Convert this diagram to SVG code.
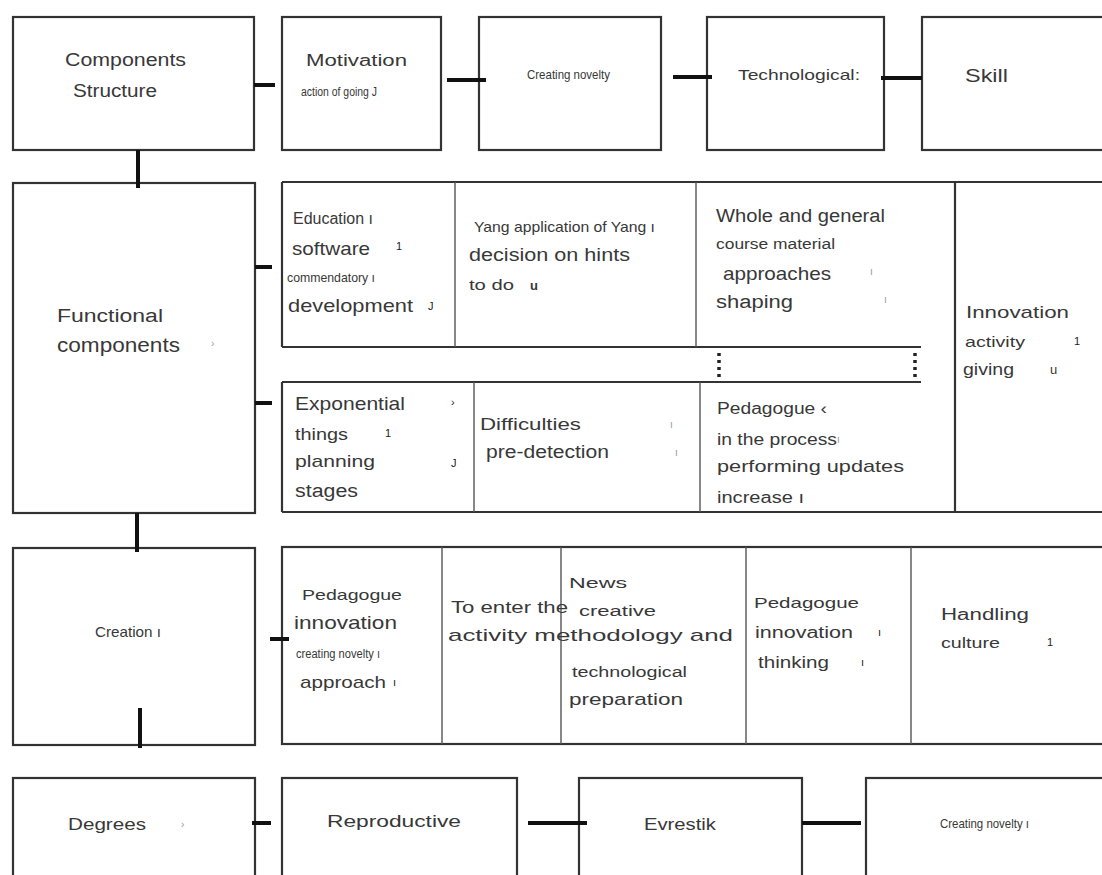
<svg xmlns="http://www.w3.org/2000/svg" width="1102" height="875" viewBox="0 0 1102 875">
<style>
.box{fill:#fff;stroke:#333;stroke-width:2.2}
.div{stroke:#555;stroke-width:1.4;fill:none}
.edge{stroke:#333;stroke-width:2.2;fill:none}
.con{stroke:#111;stroke-width:4;fill:none}
.dot{stroke:#222;stroke-width:3.5;stroke-dasharray:3 4;fill:none}
text{font-family:"Liberation Sans",Arial,sans-serif;fill:#383838}
.m{fill:#222;font-size:11px}
.l{fill:#999;font-size:10px}
</style>
<rect width="1102" height="875" fill="#fff"/>
<g id="components-structure">
<rect class="box" x="13" y="17" width="241" height="133"/>
<text x="65" y="66" font-size="18" textLength="121" lengthAdjust="spacingAndGlyphs">Components</text>
<text x="73" y="97" font-size="18" textLength="84" lengthAdjust="spacingAndGlyphs">Structure</text>
</g>
<g id="motivation">
<rect class="box" x="282" y="17" width="159" height="133"/>
<text x="306" y="66" font-size="16" textLength="101" lengthAdjust="spacingAndGlyphs">Motivation</text>
<text x="301" y="96" font-size="12" textLength="76" lengthAdjust="spacingAndGlyphs">action of going J</text>
</g>
<g id="creating-novelty-top">
<rect class="box" x="479" y="17" width="182" height="133"/>
<text x="527" y="79" font-size="13" textLength="83" lengthAdjust="spacingAndGlyphs">Creating novelty</text>
</g>
<g id="technological">
<rect class="box" x="707" y="17" width="177" height="133"/>
<text x="738" y="80" font-size="15" textLength="122" lengthAdjust="spacingAndGlyphs">Technological:</text>
</g>
<g id="skill">
<rect class="box" x="922" y="17" width="190" height="133"/>
<text x="965" y="82" font-size="18" textLength="43" lengthAdjust="spacingAndGlyphs">Skill</text>
</g>
<g id="functional-components">
<rect class="box" x="13" y="183" width="242" height="330"/>
<text x="57" y="322" font-size="18" textLength="106" lengthAdjust="spacingAndGlyphs">Functional</text>
<text x="57" y="352" font-size="20" textLength="123" lengthAdjust="spacingAndGlyphs">components</text>
<text class="l" x="211" y="347">›</text>
</g>
<g id="functional-table">
<line class="edge" x1="282" y1="182" x2="1104" y2="182"/>
<line class="edge" x1="282" y1="182" x2="282" y2="347"/>
<line class="edge" x1="282" y1="347" x2="921" y2="347"/>
<line class="edge" x1="282" y1="382" x2="921" y2="382"/>
<line class="edge" x1="282" y1="382" x2="282" y2="512"/>
<line class="edge" x1="282" y1="512" x2="1104" y2="512"/>
<line class="div" x1="455" y1="182" x2="455" y2="347"/>
<line class="div" x1="696" y1="182" x2="696" y2="347"/>
<line class="div" x1="474" y1="382" x2="474" y2="512"/>
<line class="div" x1="700" y1="382" x2="700" y2="512"/>
<line class="edge" x1="955" y1="182" x2="955" y2="512"/>
<line class="dot" x1="719" y1="353" x2="719" y2="378"/>
<line class="dot" x1="915" y1="353" x2="915" y2="378"/>
</g>
<g id="education-software">
<text x="293" y="224" font-size="16" textLength="80" lengthAdjust="spacingAndGlyphs">Education ı</text>
<text x="292" y="255" font-size="19" textLength="78" lengthAdjust="spacingAndGlyphs">software</text>
<text class="m" x="396" y="250">1</text>
<text x="287" y="282" font-size="13" textLength="88" lengthAdjust="spacingAndGlyphs">commendatory ı</text>
<text x="288" y="312" font-size="19" textLength="125" lengthAdjust="spacingAndGlyphs">development</text>
<text class="m" x="428" y="310">J</text>
</g>
<g id="decision-on-hints">
<text x="474" y="232" font-size="15" textLength="181" lengthAdjust="spacingAndGlyphs">Yang application of Yang ı</text>
<text x="469" y="261" font-size="18" textLength="161" lengthAdjust="spacingAndGlyphs">decision on hints</text>
<text x="469" y="290" font-size="14" textLength="45" lengthAdjust="spacingAndGlyphs">to do</text>
<text x="530" y="290" font-size="13" font-weight="bold" fill="#222">u</text>
</g>
<g id="approaches-shaping">
<text x="716" y="222" font-size="18" textLength="169" lengthAdjust="spacingAndGlyphs">Whole and general</text>
<text x="716" y="249" font-size="14" textLength="119" lengthAdjust="spacingAndGlyphs">course material</text>
<text x="723" y="280" font-size="19" textLength="108" lengthAdjust="spacingAndGlyphs">approaches</text>
<text class="l" x="870" y="275">ı</text>
<text x="716" y="308" font-size="18" textLength="77" lengthAdjust="spacingAndGlyphs">shaping</text>
<text class="l" x="884" y="303">ı</text>
</g>
<g id="innovation-activity">
<text x="966" y="318" font-size="17" textLength="103" lengthAdjust="spacingAndGlyphs">Innovation</text>
<text x="965" y="347" font-size="15" textLength="60" lengthAdjust="spacingAndGlyphs">activity</text>
<text class="m" x="1074" y="345">1</text>
<text x="963" y="375" font-size="16" textLength="51" lengthAdjust="spacingAndGlyphs">giving</text>
<text x="1050" y="374" font-size="13" fill="#222">u</text>
</g>
<g id="planning-stages">
<text x="295" y="410" font-size="19" textLength="110" lengthAdjust="spacingAndGlyphs">Exponential</text>
<text class="m" x="451" y="406">›</text>
<text x="295" y="440" font-size="17" textLength="53" lengthAdjust="spacingAndGlyphs">things</text>
<text class="m" x="385" y="437">1</text>
<text x="295" y="467" font-size="17" textLength="80" lengthAdjust="spacingAndGlyphs">planning</text>
<text class="m" x="451" y="467">J</text>
<text x="295" y="497" font-size="18" textLength="63" lengthAdjust="spacingAndGlyphs">stages</text>
</g>
<g id="difficulties">
<text x="480" y="430" font-size="17" textLength="101" lengthAdjust="spacingAndGlyphs">Difficulties</text>
<text class="l" x="670" y="428">ı</text>
<text x="486" y="458" font-size="18" textLength="123" lengthAdjust="spacingAndGlyphs">pre-detection</text>
<text class="l" x="675" y="456">ı</text>
</g>
<g id="pedagogue-updates">
<text x="717" y="414" font-size="16" textLength="110" lengthAdjust="spacingAndGlyphs">Pedagogue ‹</text>
<text x="717" y="445" font-size="16" textLength="120" lengthAdjust="spacingAndGlyphs">in the process</text>
<text class="l" x="837" y="443">ı</text>
<text x="717" y="472" font-size="17" textLength="187" lengthAdjust="spacingAndGlyphs">performing updates</text>
<text x="717" y="503" font-size="16" textLength="87" lengthAdjust="spacingAndGlyphs">increase ı</text>
</g>
<g id="creation">
<rect class="box" x="13" y="548" width="242" height="197"/>
<text x="95" y="637" font-size="15" textLength="66" lengthAdjust="spacingAndGlyphs">Creation ı</text>
</g>
<g id="creation-table">
<rect class="box" x="282" y="547" width="824" height="197"/>
<line class="div" x1="442" y1="547" x2="442" y2="744"/>
<line class="div" x1="561" y1="547" x2="561" y2="744"/>
<line class="div" x1="746" y1="547" x2="746" y2="744"/>
<line class="div" x1="911" y1="547" x2="911" y2="744"/>
</g>
<g id="pedagogue-innovation-approach">
<text x="302" y="600" font-size="15" textLength="100" lengthAdjust="spacingAndGlyphs">Pedagogue</text>
<text x="294" y="629" font-size="19" textLength="103" lengthAdjust="spacingAndGlyphs">innovation</text>
<text x="296" y="658" font-size="12" textLength="84" lengthAdjust="spacingAndGlyphs">creating novelty ı</text>
<text x="300" y="688" font-size="17" textLength="86" lengthAdjust="spacingAndGlyphs">approach</text>
<text class="m" x="393" y="686">ı</text>
</g>
<g id="enter-creative-activity">
<text x="451" y="613" font-size="16" textLength="117" lengthAdjust="spacingAndGlyphs">To enter the</text>
<text x="448" y="641" font-size="17" textLength="285" lengthAdjust="spacingAndGlyphs">activity methodology and</text>
</g>
<g id="news-preparation">
<text x="569" y="588" font-size="15" textLength="58" lengthAdjust="spacingAndGlyphs">News</text>
<text x="579" y="616" font-size="14" textLength="77" lengthAdjust="spacingAndGlyphs">creative</text>
<text x="572" y="677" font-size="14" textLength="115" lengthAdjust="spacingAndGlyphs">technological</text>
<text x="569" y="705" font-size="17" textLength="114" lengthAdjust="spacingAndGlyphs">preparation</text>
</g>
<g id="pedagogue-thinking">
<text x="754" y="608" font-size="15" textLength="105" lengthAdjust="spacingAndGlyphs">Pedagogue</text>
<text x="755" y="638" font-size="16" textLength="98" lengthAdjust="spacingAndGlyphs">innovation</text>
<text class="m" x="878" y="636">ı</text>
<text x="758" y="668" font-size="16" textLength="71" lengthAdjust="spacingAndGlyphs">thinking</text>
<text class="m" x="861" y="666">ı</text>
</g>
<g id="handling-culture">
<text x="941" y="620" font-size="16" textLength="88" lengthAdjust="spacingAndGlyphs">Handling</text>
<text x="941" y="648" font-size="15" textLength="59" lengthAdjust="spacingAndGlyphs">culture</text>
<text class="m" x="1047" y="646">1</text>
</g>
<g id="degrees">
<rect class="box" x="13" y="778" width="242" height="110"/>
<text x="68" y="830" font-size="16" textLength="78" lengthAdjust="spacingAndGlyphs">Degrees</text>
<text class="l" x="181" y="828">›</text>
</g>
<g id="reproductive">
<rect class="box" x="282" y="778" width="235" height="110"/>
<text x="327" y="827" font-size="16" textLength="134" lengthAdjust="spacingAndGlyphs">Reproductive</text>
</g>
<g id="evrestik">
<rect class="box" x="579" y="778" width="223" height="110"/>
<text x="644" y="830" font-size="16" textLength="72" lengthAdjust="spacingAndGlyphs">Evrestik</text>
</g>
<g id="creating-novelty-bottom">
<rect class="box" x="866" y="778" width="246" height="110"/>
<text x="940" y="828" font-size="13" textLength="89" lengthAdjust="spacingAndGlyphs">Creating novelty ı</text>
</g>
<g id="connectors">
<line class="con" x1="254" y1="85" x2="275" y2="85"/>
<line class="con" x1="447" y1="80" x2="486" y2="80"/>
<line class="con" x1="673" y1="77" x2="712" y2="77"/>
<line class="con" x1="881" y1="78" x2="922" y2="78"/>
<line class="con" x1="138" y1="150" x2="138" y2="188"/>
<line class="con" x1="255" y1="267" x2="272" y2="267"/>
<line class="con" x1="255" y1="403" x2="272" y2="403"/>
<line class="con" x1="137" y1="513" x2="137" y2="552"/>
<line class="con" x1="140" y1="708" x2="140" y2="748"/>
<line class="con" x1="270" y1="639" x2="289" y2="639"/>
<line class="con" x1="252" y1="823" x2="271" y2="823"/>
<line class="con" x1="528" y1="823" x2="587" y2="823"/>
<line class="con" x1="802" y1="823" x2="861" y2="823"/>
</g>
</svg>
